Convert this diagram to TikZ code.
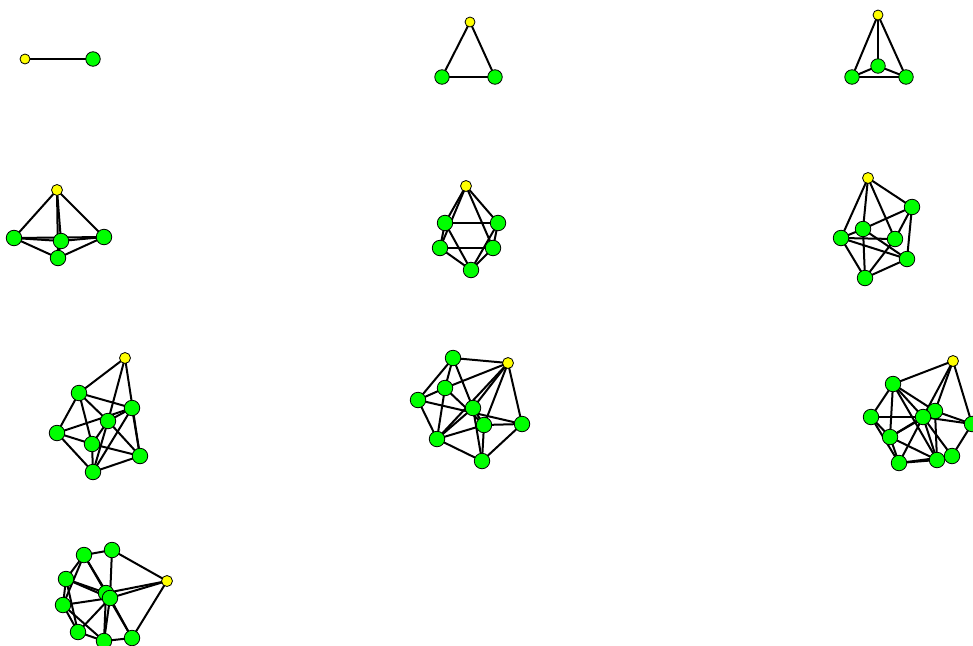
\documentclass[tikz,border=0pt]{standalone}
\usetikzlibrary{backgrounds}
\definecolor{lime}{RGB}{0,255,0}
\definecolor{yel}{RGB}{255,255,0}
\tikzset{
  ynode/.style={circle,draw=black,line width=0.8pt,fill=yel,inner sep=0pt,minimum size=11pt},
  ysmall/.style={ynode,minimum size=10pt},
  gnode/.style={circle,draw=black,line width=0.8pt,fill=lime,inner sep=0pt,minimum size=15.5pt},
  gsmall/.style={gnode,minimum size=14.5pt},
  edge/.style={line width=2pt,black}
}
\newcommand{\edges}[1]{\begin{scope}[on background layer]\foreach \a/\b in {#1} \draw[edge] (\a.center) -- (\b.center);\end{scope}}
\begin{document}
\begin{tikzpicture}[x=1pt,y=-1pt]
\useasboundingbox (0,0) rectangle (973,645);
% graph 1
\node[ysmall] (a1) at (25,59) {};
\node[gsmall] (a2) at (93,59) {};
\edges{a1/a2}
% graph 2
\node[ysmall] (b1) at (470,22) {};
\node[gsmall] (b2) at (442,77) {};
\node[gsmall] (b3) at (495,77) {};
\edges{b1/b2,b1/b3,b2/b3}
% graph 3
\node[ysmall] (c1) at (878,15) {};
\node[gsmall] (c2) at (852,77) {};
\node[gsmall] (c3) at (878,66) {};
\node[gsmall] (c4) at (906,77) {};
\edges{c1/c2,c1/c3,c1/c4,c2/c3,c3/c4,c2/c4}
% graph 4
\node[ynode] (dY) at (57,190) {};
\node[gnode] (dL) at (14,238) {};
\node[gnode] (dM) at (61,241) {};
\node[gnode] (dR) at (104,237) {};
\node[gnode] (dB) at (58,258) {};
\edges{dY/dL,dY/dM,dY/dR,dY/dB,dL/dM,dM/dR,dL/dB,dB/dR,dL/dR,dM/dB}
% graph 5
\node[ynode] (eY) at (466,186) {};
\node[gnode] (eA) at (445,223) {};
\node[gnode] (eB) at (498,223) {};
\node[gnode] (eC) at (440,248) {};
\node[gnode] (eD) at (493,248) {};
\node[gnode] (eE) at (471,270) {};
\edges{eY/eA,eY/eB,eY/eC,eY/eD,eE/eA,eE/eB,eE/eC,eE/eD,eA/eB,eB/eD,eD/eC,eC/eA}
% graph 6
\node[ynode] (fY) at (868,178) {};
\node[gnode] (fP) at (912,207) {};
\node[gnode] (fQ) at (863,229) {};
\node[gnode] (fS) at (841,238) {};
\node[gnode] (fT) at (895,239) {};
\node[gnode] (fU) at (907,259) {};
\node[gnode] (fV) at (865,278) {};
\edges{fY/fP,fY/fS,fY/fQ,fY/fT,fP/fQ,fP/fT,fP/fU,fS/fQ,fS/fT,fS/fV,fQ/fV,fQ/fU,fS/fU,fT/fV,fU/fV}
% graph 7
\node[ynode] (gY) at (125,358) {};
\node[gnode] (gA) at (79,393) {};
\node[gnode] (gB) at (132,408) {};
\node[gnode] (gC) at (108,421) {};
\node[gnode] (gD) at (57,433) {};
\node[gnode] (gE) at (92,444) {};
\node[gnode] (gF) at (140,456) {};
\node[gnode] (gG) at (93,472) {};
\edges{gY/gA,gY/gC,gY/gF,gA/gB,gA/gD,gA/gE,gA/gC,gB/gC,gB/gF,gB/gD,gB/gG,gC/gE,gC/gF,gC/gG,gD/gE,gD/gG,gE/gF,gE/gG,gF/gG}
% graph 8
\node[ynode] (hY) at (508,363) {};
\node[gnode] (hA) at (453,358) {};
\node[gnode] (hB) at (445,388) {};
\node[gnode] (hC) at (418,400) {};
\node[gnode] (hD) at (473,408) {};
\node[gnode] (hE) at (484,425) {};
\node[gnode] (hF) at (522,424) {};
\node[gnode] (hG) at (437,439) {};
\node[gnode] (hH) at (482,461) {};
\edges{hY/hA,hY/hB,hY/hD,hY/hE,hY/hF,hY/hG,hA/hC,hA/hB,hA/hD,hB/hC,hB/hG,hB/hE,hC/hF,hC/hG,hD/hG,hD/hE,hD/hH,hE/hF,hE/hG,hE/hH,hF/hH,hG/hH}
% graph 9
\node[ynode] (iY) at (953,361) {};
\node[gnode] (iA) at (893,384) {};
\node[gnode] (iB) at (871,417) {};
\node[gnode] (iC) at (935,411) {};
\node[gnode] (iD) at (923,417) {};
\node[gnode] (iE) at (890,437) {};
\node[gnode] (iF) at (972,424) {};
\node[gnode] (iG) at (899,463) {};
\node[gnode] (iH) at (937,460) {};
\node[gnode] (iI) at (952,456) {};
\edges{iY/iA,iY/iC,iY/iD,iY/iF,iA/iB,iA/iE,iA/iD,iA/iC,iB/iD,iB/iE,iB/iG,iC/iD,iC/iF,iC/iH,iD/iE,iD/iG,iD/iH,iD/iF,iD/iI,iE/iG,iE/iH,iG/iH,iG/iI,iH/iI,iI/iF,iC/iE,iA/iH}
% graph 10
\node[ynode] (jY) at (167,581) {};
\node[gnode] (jA) at (84,555) {};
\node[gnode] (jB) at (112,550) {};
\node[gnode] (jC) at (66,579) {};
\node[gnode] (jD) at (63,605) {};
\node[gnode] (jE) at (106,593) {};
\node[gnode] (jF) at (110,598) {};
\node[gnode] (jG) at (78,632) {};
\node[gnode] (jH) at (104,641) {};
\node[gnode] (jI) at (132,638) {};
\edges{jA/jB,jB/jF,jB/jY,jY/jF,jY/jE,jY/jI,jA/jF,jA/jE,jA/jC,jA/jD,jC/jD,jC/jF,jC/jE,jD/jF,jD/jG,jD/jH,jG/jF,jG/jH,jH/jF,jH/jE,jI/jF,jI/jE,jH/jI,jC/jG}
\end{tikzpicture}
\end{document}
